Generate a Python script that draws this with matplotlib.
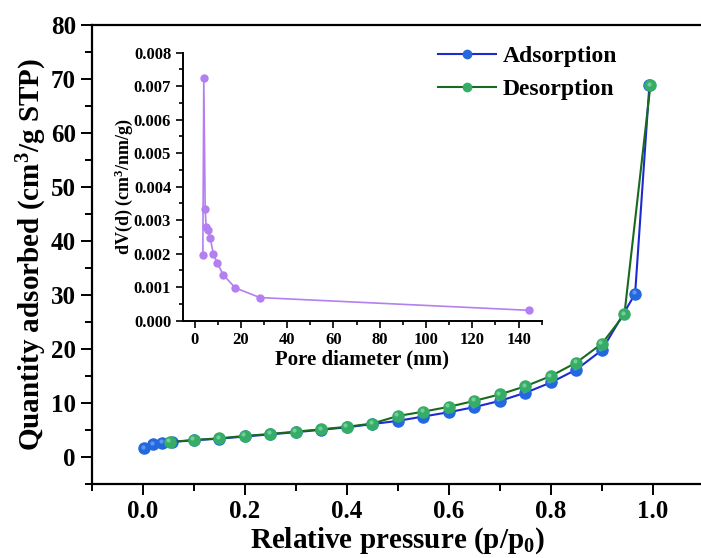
import matplotlib.pyplot as plt
import numpy as np
from matplotlib.ticker import MultipleLocator
from matplotlib.transforms import ScaledTranslation

plt.rcParams['font.family'] = 'Liberation Serif'
plt.rcParams['font.weight'] = 'bold'
plt.rcParams['mathtext.fontset'] = 'custom'
plt.rcParams['mathtext.rm'] = 'Liberation Serif:bold'
plt.rcParams['mathtext.it'] = 'Liberation Serif:bold'
plt.rcParams['mathtext.bf'] = 'Liberation Serif:bold'
plt.rcParams['mathtext.default'] = 'rm'

# isotherm data
ads_p = [0.003, 0.02, 0.038, 0.056, 0.10, 0.15, 0.20, 0.25, 0.30, 0.35, 0.40, 0.45,
         0.50, 0.55, 0.60, 0.65, 0.70, 0.75, 0.80, 0.85, 0.90, 0.965, 0.993]
ads_q = [1.6, 2.35, 2.66, 2.78, 3.1, 3.4, 3.8, 4.2, 4.6, 5.05, 5.5, 6.1,
         6.7, 7.5, 8.3, 9.25, 10.4, 11.9, 13.8, 16.2, 19.8, 30.2, 68.8]
des_p = [0.995, 0.944, 0.90, 0.85, 0.80, 0.75, 0.70, 0.65, 0.60, 0.55, 0.50, 0.45,
         0.40, 0.35, 0.30, 0.25, 0.20, 0.15, 0.10, 0.053]
des_q = [68.8, 26.4, 21.0, 17.5, 15.0, 13.1, 11.6, 10.4, 9.3, 8.4, 7.6, 6.2,
         5.6, 5.13, 4.7, 4.27, 3.9, 3.46, 3.16, 2.78]

# pore size distribution
pore_d = [3.6, 4.0, 4.6, 5.0, 5.9, 6.8, 8.1, 9.8, 12.5, 17.6, 28.2, 144.3]
pore_dv = [0.00196, 0.00725, 0.00333, 0.00281, 0.00270, 0.00246, 0.00200,
           0.00172, 0.00136, 0.00098, 0.00069, 0.00031]

fig = plt.figure(figsize=(7.01, 5.58), dpi=100)
ax = fig.add_axes([0.1312, 0.1326, 0.873, 0.8226])

# small shift for the glossy highlight on the balls
shine = ax.transData + ScaledTranslation(-1.5 / 100, 1.5 / 100, fig.dpi_scale_trans)

ax.plot(ads_p, ads_q, color='#1c2bd0', lw=1.5, marker='o', ms=8,
        mfc='#2468e0', mec='#2468e0', label='Adsorption', zorder=3)
ax.plot(ads_p, ads_q, ls='none', marker='o', ms=3, mfc='#5f96ee', mec='none',
        transform=shine, zorder=3.5)
ax.plot(des_p, des_q, color='#186a1e', lw=1.5, marker='o', ms=8,
        mfc='#36ad66', mec='#36ad66', label='Desorption', zorder=4)
ax.plot(des_p, des_q, ls='none', marker='o', ms=3, mfc='#74cc96', mec='none',
        transform=shine, zorder=4.5)

ax.set_xlim(-0.1, 1.1)
ax.set_ylim(-5, 80)
ax.xaxis.set_major_locator(MultipleLocator(0.2))
ax.xaxis.set_minor_locator(MultipleLocator(0.1))
ax.yaxis.set_major_locator(MultipleLocator(10))
ax.yaxis.set_minor_locator(MultipleLocator(5))
ax.tick_params(which='both', direction='out', width=1.4, labelsize=18, top=False, right=False)
ax.tick_params(which='major', length=8)
ax.tick_params(which='minor', length=5)
ax.set_xticklabels([f'{v:.1f}' for v in ax.get_xticks()])
for s in ax.spines.values():
    s.set_linewidth(1.6)
ax.spines['right'].set_visible(False)
ax.set_xlabel('Relative pressure (p/p$_0$)', fontsize=21, fontweight='bold', labelpad=2)
ax.set_ylabel('Quantity adsorbed (cm$^3$/g STP)', fontsize=21, fontweight='bold', labelpad=1)
leg = ax.legend(loc='upper right', bbox_to_anchor=(0.893, 1.002), frameon=False, fontsize=17,
                handlelength=2.45, handletextpad=0.3, labelspacing=0.5, markerscale=0.75)
leg.set_zorder(10)

# inset
ins = fig.add_axes([0.261, 0.4253, 0.5118, 0.4803])
ins.patch.set_facecolor('none')
ins.plot(pore_d, pore_dv, color='#b47ff0', lw=1.2, marker='o', ms=5,
         mfc='#b47ff0', mec='#b47ff0')
ins.set_xlim(-5, 150)
ins.set_ylim(0, 0.008)
ins.xaxis.set_major_locator(MultipleLocator(20))
ins.xaxis.set_minor_locator(MultipleLocator(10))
ins.yaxis.set_major_locator(MultipleLocator(0.001))
ins.yaxis.set_minor_locator(MultipleLocator(0.0005))
ins.yaxis.set_major_formatter(plt.FuncFormatter(lambda v, p: f'{v:.3f}'))
ins.tick_params(which='both', direction='out', width=1.2, labelsize=12)
ins.tick_params(which='major', length=5)
ins.tick_params(which='minor', length=3)
ins.spines['top'].set_visible(False)
ins.spines['right'].set_visible(False)
for s in ['left', 'bottom']:
    ins.spines[s].set_linewidth(1.4)
ins.set_xlabel('Pore diameter (nm)', fontsize=15, fontweight='bold', labelpad=1)
ins.set_ylabel('dV(d) (cm$^3$/nm/g)', fontsize=13, fontweight='bold', labelpad=-1)

fig.savefig('out.png', dpi=100)
